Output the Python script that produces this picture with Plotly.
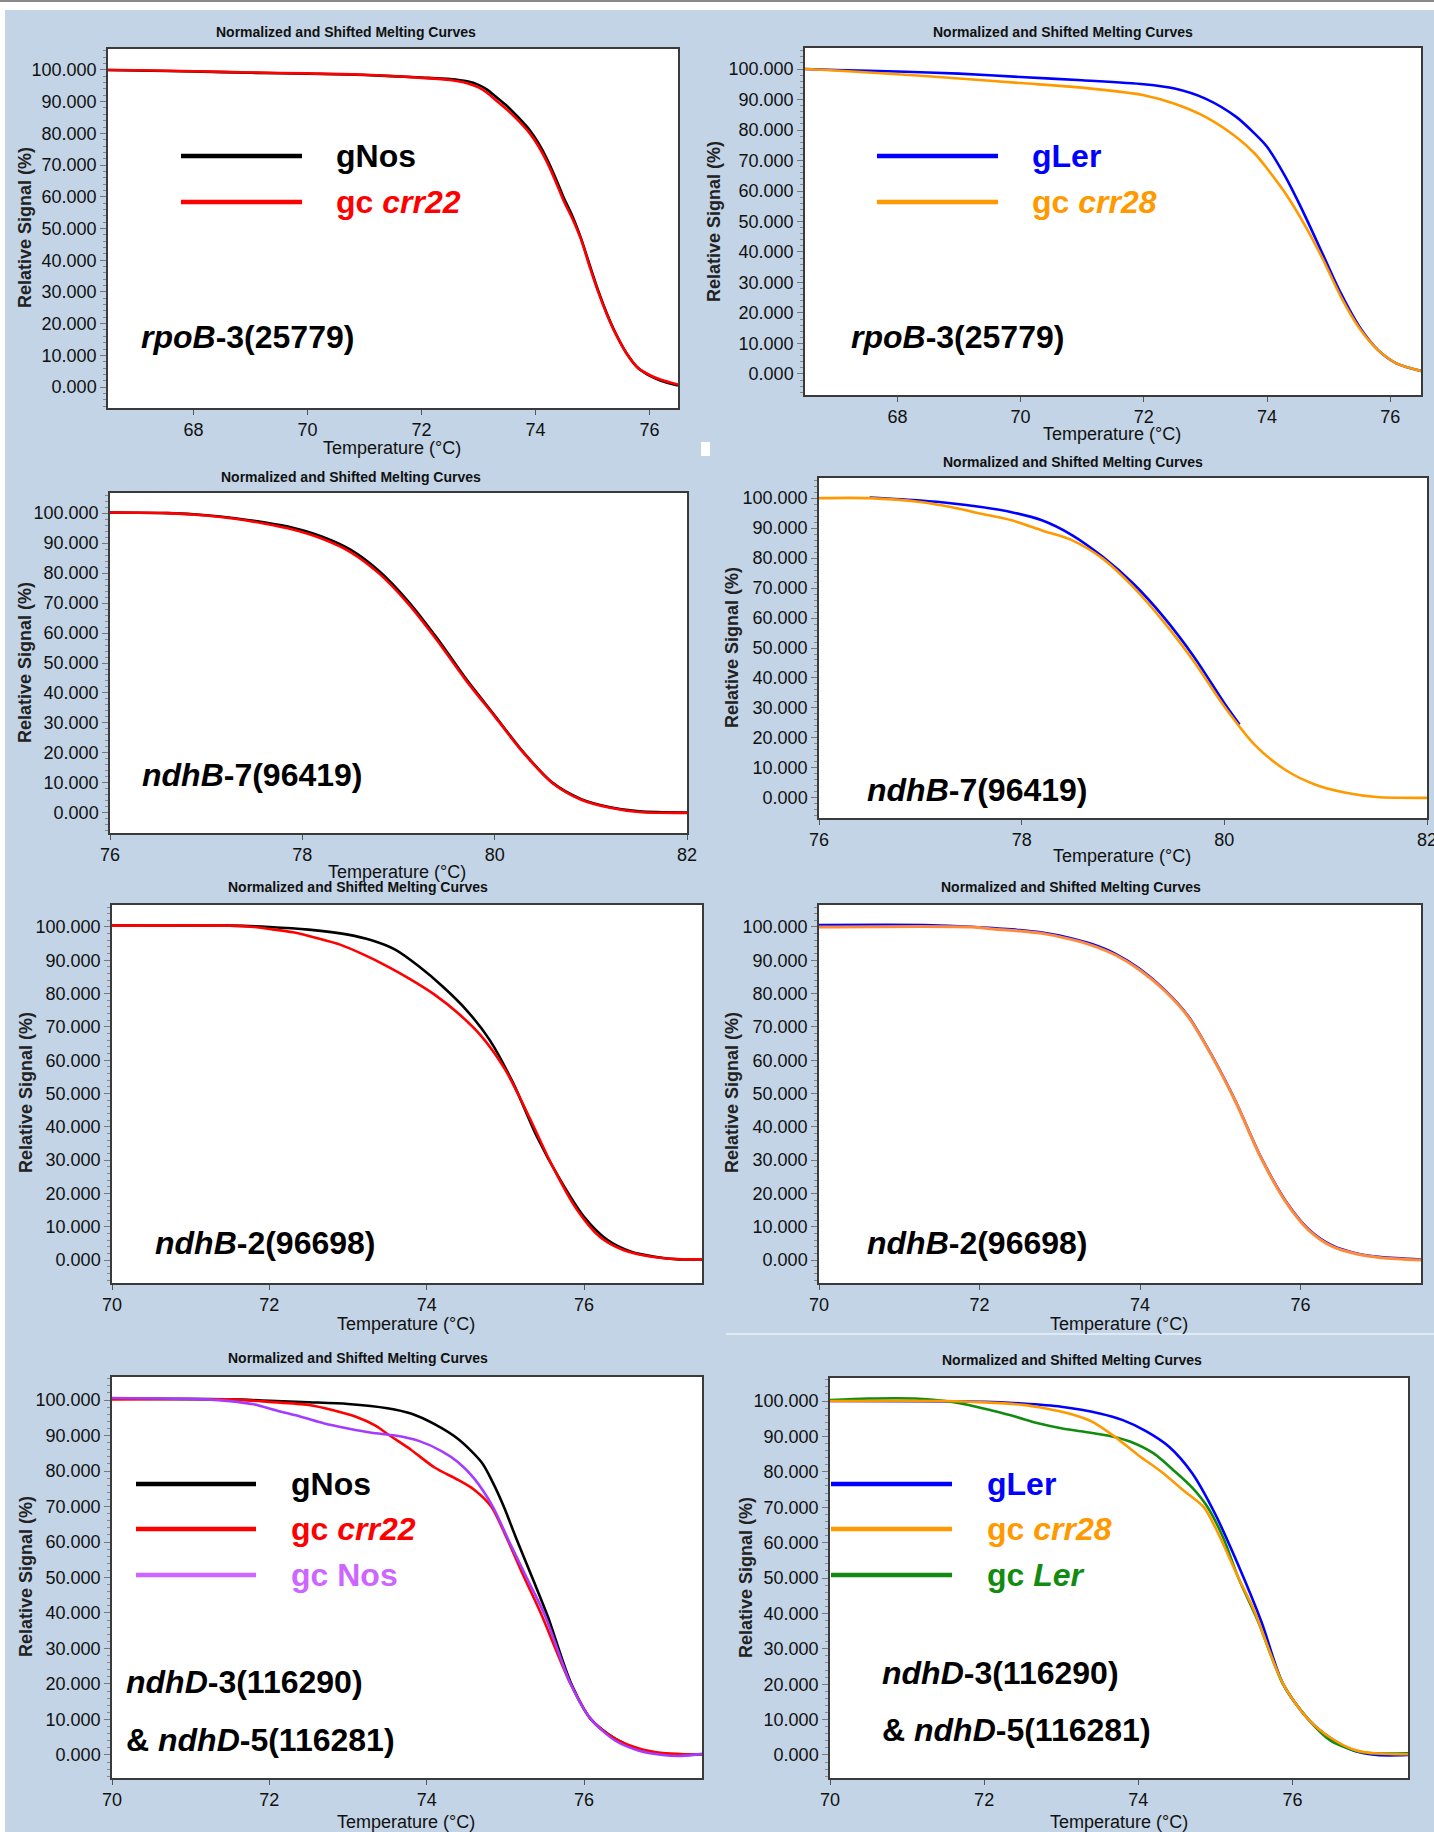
import plotly.graph_objects as go

W, H = 1434, 1832
BG = "#c2d4e5"
FONT = "Liberation Sans, Arial, sans-serif"

# ---------------- data ----------------
# Panel 1: rpoB-3, gNos vs gc crr22
P1_T = [66.5, 67.0, 68.0, 69.0, 70.0, 71.0, 72.0, 72.5, 72.8, 73.0, 73.15, 73.3, 73.5, 73.7, 73.9,
        74.05, 74.2, 74.35, 74.5, 74.65, 74.8, 74.95, 75.1, 75.25, 75.4, 75.6, 75.8, 76.0, 76.2, 76.5]
P1_gNos = [100.0, 99.8, 99.5, 99.1, 98.8, 98.4, 97.6, 97.1, 96.4, 95.3, 93.8, 91.6, 88.6, 85.0, 81.0,
           77.0, 72.0, 66.0, 59.5, 53.8, 46.8, 38.5, 30.4, 23.3, 17.2, 10.6, 6.0, 3.6, 2.0, 0.5]
P1_crr22 = [100.0, 99.9, 99.6, 99.2, 98.9, 98.5, 97.5, 96.8, 95.8, 94.5, 92.8, 90.5, 87.5, 84.0, 80.0,
            76.0, 71.0, 65.0, 58.5, 53.0, 46.5, 38.0, 30.0, 23.0, 17.0, 10.5, 6.0, 3.8, 2.3, 0.8]

# Panel 2: rpoB-3, gLer vs gc crr28
P2_T = [66.5, 67.0, 68.0, 69.0, 70.0, 71.0, 72.0, 72.5, 73.0, 73.5, 73.8, 74.0, 74.3, 74.6, 74.9,
        75.2, 75.5, 75.8, 76.1, 76.5]
P2_gLer = [100.0, 99.7, 99.2, 98.5, 97.4, 96.3, 95.0, 93.6, 90.3, 84.3, 78.8, 74.5, 64.6, 52.6, 39.5,
           26.4, 15.5, 7.9, 3.5, 1.0]
P2_crr28 = [100.0, 99.5, 98.3, 96.9, 95.4, 93.9, 91.4, 88.6, 84.3, 77.7, 72.3, 67.4, 59.2, 49.3, 37.9,
            25.3, 15.0, 7.9, 3.5, 1.0]

# Panel 3: ndhB-7, gNos vs gc crr22
P3_T = [76.0, 76.6, 77.0, 77.3, 77.6, 77.9, 78.2, 78.5, 78.8, 79.1, 79.4, 79.7, 80.0, 80.3, 80.6,
        80.9, 81.2, 81.5, 82.0]
P3_gNos = [100.2, 100.0, 99.3, 98.3, 96.9, 95.1, 92.2, 87.8, 80.6, 70.6, 58.3, 44.8, 32.5, 20.2, 10.1,
           4.6, 1.9, 0.5, 0.1]
P3_crr22 = [100.2, 100.0, 99.2, 98.1, 96.5, 94.5, 91.5, 87.0, 79.8, 69.8, 57.6, 44.3, 32.2, 20.0, 10.0,
            4.4, 1.7, 0.3, 0.0]

# Panel 4: ndhB-7, gLer vs gc crr28
P4_T_gLer = [76.5, 77.0, 77.3, 77.6, 77.9, 78.2, 78.5, 78.8, 79.1, 79.4, 79.7, 80.0, 80.15]
P4_gLer = [100.2, 99.2, 98.3, 97.0, 95.3, 92.6, 87.6, 80.4, 71.5, 60.4, 47.1, 31.6, 24.5]
P4_T_crr28 = [76.0, 76.5, 77.0, 77.3, 77.6, 77.9, 78.2, 78.5, 78.8, 79.1, 79.4, 79.7, 80.0, 80.3,
              80.6, 80.9, 81.2, 81.5, 82.0]
P4_crr28 = [100.0, 100.0, 98.7, 97.0, 94.8, 92.6, 89.2, 85.9, 79.8, 70.4, 58.8, 45.5, 30.5, 17.7,
            9.4, 4.4, 1.7, 0.3, 0.0]

# Panel 5: ndhB-2, gNos vs gc crr22
P5_T_gNos = [70.0, 71.5, 72.0, 72.5, 73.0, 73.3, 73.6, 73.9, 74.2, 74.5, 74.8, 75.1, 75.4, 75.7, 76.0,
             76.3, 76.6, 76.9, 77.2, 77.5]
P5_gNos = [100.4, 100.4, 100.0, 99.2, 97.7, 96.0, 93.2, 88.2, 82.2, 75.2, 66.1, 53.1, 37.1, 24.0, 13.0,
           6.0, 2.5, 1.0, 0.2, 0.2]
P5_T_crr22 = [70.0, 71.5, 71.8, 72.0, 72.3, 72.6, 72.9, 73.2, 73.5, 73.8, 74.1, 74.4, 74.7, 75.0, 75.3,
              75.6, 75.9, 76.2, 76.5, 76.8, 77.1, 77.5]
P5_crr22 = [100.4, 100.4, 100.0, 99.4, 98.4, 96.7, 94.7, 91.7, 88.2, 84.2, 79.7, 74.1, 67.1, 57.1, 43.1,
            28.1, 15.5, 7.0, 3.0, 1.2, 0.4, 0.2]

# Panel 6: ndhB-2, gLer vs gc crr28
P6_T_gLer = [70.0, 71.3, 71.9, 72.2, 72.5, 72.8, 73.1, 73.4, 73.7, 74.0, 74.3, 74.6, 74.9, 75.2, 75.5,
             75.8, 76.1, 76.4, 76.7, 77.0, 77.5]
P6_gLer = [100.6, 100.6, 100.1, 99.6, 99.1, 98.3, 96.9, 94.9, 91.9, 87.4, 81.3, 73.3, 61.2, 47.2, 31.2,
           18.3, 9.3, 4.3, 2.0, 0.9, 0.2]
P6_T_crr28 = [70.0, 71.9, 72.2, 72.5, 72.8, 73.1, 73.4, 73.7, 74.0, 74.3, 74.6, 74.9, 75.2, 75.5, 75.8,
              76.1, 76.4, 76.7, 77.0, 77.5]
P6_crr28 = [100.0, 100.0, 99.3, 98.8, 98.0, 96.5, 94.5, 91.5, 87.0, 81.0, 73.0, 61.0, 47.0, 31.0, 18.0,
            9.0, 4.0, 1.8, 0.7, 0.0]

# Panel 7: ndhD-3 & ndhD-5, gNos / gc crr22 / gc Nos
P7_T_gNos = [70.0, 71.5, 72.0, 72.5, 73.0, 73.5, 73.8, 74.1, 74.4, 74.7, 74.84, 74.98, 75.13, 75.36,
             75.54, 75.83, 76.09, 76.4, 76.7, 77.0, 77.3, 77.5]
P7_gNos = [100.4, 100.2, 99.8, 99.4, 98.9, 97.7, 96.2, 93.2, 89.0, 82.4, 76.8, 70.0, 61.5, 49.0,
           39.0, 20.5, 10.0, 4.5, 1.5, 0.3, 0.0, 0.2]
P7_T_crr22 = [70.0, 71.5, 72.0, 72.5, 72.8, 73.1, 73.35, 73.53, 73.8, 74.1, 74.4, 74.6, 74.82, 75.02,
              75.22, 75.45, 75.83, 76.09, 76.4, 76.7, 77.0, 77.3, 77.5]
P7_crr22 = [100.2, 100.2, 99.5, 98.6, 97.2, 95.3, 92.8, 90.0, 86.0, 81.0, 77.5, 74.8, 70.0, 61.0,
            51.0, 40.0, 20.0, 10.0, 4.5, 1.8, 0.5, 0.2, 0.2]
P7_T_gcNos = [70.0, 71.2, 71.5, 71.8, 72.1, 72.4, 72.7, 73.0, 73.3, 73.6, 73.9, 74.2, 74.4, 74.6,
              74.84, 75.04, 75.27, 75.5, 75.83, 76.09, 76.4, 76.7, 77.0, 77.2, 77.5]
P7_gcNos = [100.6, 100.2, 99.7, 98.8, 97.0, 95.3, 93.4, 92.0, 90.8, 90.0, 88.5, 85.5, 82.5, 78.0,
            70.0, 60.5, 50.0, 39.5, 20.0, 10.0, 4.0, 1.2, 0.0, -0.3, 0.3]

# Panel 8: ndhD-3 & ndhD-5, gLer / gc crr28 / gc Ler
P8_T_gLer = [70.0, 72.0, 72.5, 73.0, 73.5, 73.8, 74.1, 74.4, 74.7, 75.0, 75.3, 75.6, 75.88, 76.21,
             76.5, 76.8, 77.1, 77.5]
P8_gLer = [100.0, 99.8, 99.3, 98.4, 96.5, 94.6, 91.5, 87.1, 79.6, 68.0, 53.5, 37.5, 20.0, 10.0,
           4.7, 1.2, 0.0, 0.0]
P8_T_crr28 = [70.0, 71.5, 72.0, 72.5, 72.8, 73.1, 73.4, 73.69, 74.0, 74.3, 74.6, 74.85, 75.05, 75.3,
              75.5, 75.88, 76.21, 76.5, 76.8, 77.1, 77.5]
P8_crr28 = [100.0, 100.0, 99.6, 98.9, 97.9, 96.5, 94.2, 90.0, 84.7, 80.0, 74.5, 70.0, 62.0, 50.0,
            41.0, 20.0, 10.0, 4.8, 1.5, 0.4, 0.2]
P8_T_gcLer = [70.0, 70.5, 71.1, 71.5, 71.8, 72.1, 72.4, 72.7, 73.0, 73.3, 73.66, 73.9, 74.2, 74.48,
              74.7, 74.9, 75.1, 75.3, 75.55, 75.88, 76.21, 76.5, 76.9, 77.5]
P8_gcLer = [100.3, 100.7, 100.7, 100.0, 98.9, 97.3, 95.6, 93.7, 92.3, 91.3, 90.0, 88.5, 85.2, 80.0,
            75.5, 70.0, 61.5, 50.0, 38.0, 20.0, 10.0, 4.0, 0.8, 0.5]

TITLE = "Normalized and Shifted Melting Curves"
XTITLE = "Temperature (°C)"
YTITLE = "Relative Signal (%)"
Y_TICKS = [0, 10, 20, 30, 40, 50, 60, 70, 80, 90, 100]

BLACK, RED, BLUE = "#000000", "#ff0000", "#0000ff"
ORANGE, PURPLE, PURPLE_L, GREEN = "#ff9900", "#a43cff", "#cc66ff", "#118c11"

# ---------------- layout of the eight panels (pixel boxes) ----------------
panels = [
    dict(box=(108, 678, 49, 408), xr=[66.5, 76.5], yr=[-6.6, 106.6],
         title=(346, 32), xt=(392, 448), yt=(25, 228),
         traces=[(P1_T, P1_gNos, BLACK, 2.6), (P1_T, P1_crr22, RED, 2.6)],
         legend=dict(x0=181, x1=302, tx=334, items=[(156, BLACK, "<b>gNos</b>"),
                                                    (202, RED, "<b>gc <i>crr22</i></b>")]),
         labels=[(139, 337, "<b><i>rpoB</i>-3(25779)</b>")]),
    dict(box=(805, 1421, 48, 395), xr=[66.5, 76.5], yr=[-6.9, 106.9],
         title=(1063, 32), xt=(1112, 434), yt=(714, 222),
         traces=[(P2_T, P2_gLer, BLUE, 2.6), (P2_T, P2_crr28, ORANGE, 2.6)],
         legend=dict(x0=877, x1=998, tx=1030, items=[(156, BLUE, "<b>gLer</b>"),
                                                     (202, ORANGE, "<b>gc <i>crr28</i></b>")]),
         labels=[(849, 337, "<b><i>rpoB</i>-3(25779)</b>")]),
    dict(box=(110, 687, 493, 833), xr=[76, 82], yr=[-6.7, 106.7],
         title=(351, 477), xt=(397, 872), yt=(25, 663),
         traces=[(P3_T, P3_gNos, BLACK, 2.6), (P3_T, P3_crr22, RED, 2.6)],
         legend=None,
         labels=[(140, 775, "<b><i>ndhB</i>-7(96419)</b>")]),
    dict(box=(819, 1427, 478, 818), xr=[76, 82], yr=[-6.7, 106.7],
         title=(1073, 462), xt=(1122, 856), yt=(732, 648),
         traces=[(P4_T_gLer, P4_gLer, BLUE, 2.6), (P4_T_crr28, P4_crr28, ORANGE, 2.6)],
         legend=None,
         labels=[(865, 790, "<b><i>ndhB</i>-7(96419)</b>")]),
    dict(box=(112, 702, 905, 1283), xr=[70, 77.5], yr=[-6.9, 106.6],
         title=(358, 887), xt=(406, 1324), yt=(26, 1093),
         traces=[(P5_T_gNos, P5_gNos, BLACK, 2.6), (P5_T_crr22, P5_crr22, RED, 2.6)],
         legend=None,
         labels=[(153, 1243, "<b><i>ndhB</i>-2(96698)</b>")]),
    dict(box=(819, 1421, 905, 1283), xr=[70, 77.5], yr=[-6.9, 106.6],
         title=(1071, 887), xt=(1119, 1324), yt=(732, 1093),
         traces=[(P6_T_gLer, P6_gLer, BLUE, 2.4), (P6_T_crr28, P6_crr28, "#ff8a3c", 3.0)],
         legend=None,
         labels=[(865, 1243, "<b><i>ndhB</i>-2(96698)</b>")]),
    dict(box=(112, 702, 1377, 1778), xr=[70, 77.5], yr=[-6.5, 106.5],
         title=(358, 1358), xt=(406, 1822), yt=(26, 1577),
         traces=[(P7_T_gNos, P7_gNos, BLACK, 2.6), (P7_T_crr22, P7_crr22, RED, 2.6),
                 (P7_T_gcNos, P7_gcNos, PURPLE, 2.6)],
         legend=dict(x0=136, x1=256, tx=289, items=[(1484, BLACK, "<b>gNos</b>"),
                                                    (1529, RED, "<b>gc <i>crr22</i></b>"),
                                                    (1575, PURPLE_L, "<b>gc Nos</b>")]),
         labels=[(124, 1682, "<b><i>ndhD</i>-3(116290)</b>"),
                 (124, 1740, "<b>&amp; <i>ndhD</i>-5(116281)</b>")]),
    dict(box=(830, 1408, 1378, 1778), xr=[70, 77.5], yr=[-6.5, 106.5],
         title=(1072, 1360), xt=(1119, 1822), yt=(746, 1578),
         traces=[(P8_T_gLer, P8_gLer, BLUE, 2.6), (P8_T_gcLer, P8_gcLer, GREEN, 2.6),
                 (P8_T_crr28, P8_crr28, ORANGE, 2.6)],
         legend=dict(x0=831, x1=952, tx=985, items=[(1484, BLUE, "<b>gLer</b>"),
                                                    (1529, ORANGE, "<b>gc <i>crr28</i></b>"),
                                                    (1575, GREEN, "<b>gc <i>Ler</i></b>")]),
         labels=[(880, 1673, "<b><i>ndhD</i>-3(116290)</b>"),
                 (880, 1730, "<b>&amp; <i>ndhD</i>-5(116281)</b>")]),
]


def px(x):
    return x / W


def py(y):
    return 1 - y / H


fig = go.Figure()
annotations = []
shapes = []

# background decorations
shapes.append(dict(type="rect", xref="paper", yref="paper", x0=0, x1=1, y0=py(10), y1=1,
                   fillcolor="white", line=dict(width=0), layer="below"))
shapes.append(dict(type="rect", xref="paper", yref="paper", x0=0, x1=px(5), y0=0, y1=1,
                   fillcolor="white", line=dict(width=0), layer="below"))
shapes.append(dict(type="rect", xref="paper", yref="paper", x0=0, x1=1, y0=py(2), y1=1,
                   fillcolor="#8a8a8a", line=dict(width=0), layer="below"))
shapes.append(dict(type="line", xref="paper", yref="paper", x0=px(726), x1=1, y0=py(1334), y1=py(1334),
                   line=dict(color="white", width=1.2), layer="below"))
shapes.append(dict(type="rect", xref="paper", yref="paper", x0=px(701), x1=px(710), y0=py(456), y1=py(442),
                   fillcolor="white", line=dict(width=0), layer="below"))

layout_axes = {}
for i, p in enumerate(panels, start=1):
    l, r, t, b = p["box"]
    xa = "x" if i == 1 else f"x{i}"
    ya = "y" if i == 1 else f"y{i}"
    xkey = "xaxis" if i == 1 else f"xaxis{i}"
    ykey = "yaxis" if i == 1 else f"yaxis{i}"
    layout_axes[xkey] = dict(
        domain=[px(l), px(r)], anchor=ya, range=p["xr"], dtick=2, tick0=0, automargin=False,
        ticklabeloverflow="allow",
        showgrid=False, zeroline=False, showline=True, mirror=True,
        linecolor="#3a3a3a", linewidth=1.5, ticks="outside", ticklen=5, tickcolor="#555",
        tickfont=dict(family=FONT, size=18, color="#111"),
    )
    layout_axes[ykey] = dict(
        domain=[py(b), py(t)], anchor=xa, range=p["yr"], tickvals=Y_TICKS, tickformat=".3f",
        automargin=False,
        showgrid=False, zeroline=False, showline=True, mirror=True,
        linecolor="#3a3a3a", linewidth=1.5, ticks="outside", ticklen=6, tickcolor="#777",
        tickfont=dict(family=FONT, size=18, color="#111"),
        minor=dict(ticks="outside", ticklen=3, dtick=2, tickcolor="#888"),
    )
    for (xs, ys, col, w) in p["traces"]:
        fig.add_trace(go.Scatter(x=xs, y=ys, mode="lines",
                                 line=dict(color=col, width=w, shape="spline", smoothing=0.8),
                                 xaxis=xa, yaxis=ya, showlegend=False, hoverinfo="skip"))
    # panel title and axis titles
    tx, ty = p["title"]
    annotations.append(dict(x=px(tx), y=py(ty), xref="paper", yref="paper", text=f"<b>{TITLE}</b>",
                            showarrow=False, xanchor="center", yanchor="middle",
                            font=dict(family=FONT, size=14, color="#111")))
    xx, xy = p["xt"]
    annotations.append(dict(x=px(xx), y=py(xy), xref="paper", yref="paper", text=XTITLE,
                            showarrow=False, xanchor="center", yanchor="middle",
                            font=dict(family=FONT, size=18, color="#111")))
    yx, yy = p["yt"]
    annotations.append(dict(x=px(yx), y=py(yy), xref="paper", yref="paper", text=f"<b>{YTITLE}</b>",
                            showarrow=False, xanchor="center", yanchor="middle", textangle=-90,
                            font=dict(family=FONT, size=18, color="#222")))
    # in-plot legend
    if p["legend"]:
        lg = p["legend"]
        for (ly, col, txt) in lg["items"]:
            shapes.append(dict(type="line", xref="paper", yref="paper", x0=px(lg["x0"]), x1=px(lg["x1"]),
                               y0=py(ly), y1=py(ly), line=dict(color=col, width=4.5)))
            annotations.append(dict(x=px(lg["tx"]), y=py(ly), xref="paper", yref="paper", text=txt,
                                    showarrow=False, xanchor="left", yanchor="middle",
                                    font=dict(family=FONT, size=32, color=col)))
    for (lx, ly, txt) in p["labels"]:
        annotations.append(dict(x=px(lx), y=py(ly), xref="paper", yref="paper", text=txt,
                                showarrow=False, xanchor="left", yanchor="middle",
                                font=dict(family=FONT, size=32, color="#000")))

fig.update_layout(
    width=W, height=H, margin=dict(l=0, r=0, t=0, b=0, autoexpand=False),
    paper_bgcolor=BG, plot_bgcolor="white",
    annotations=annotations, shapes=shapes, showlegend=False,
    **layout_axes,
)

fig.write_html("out.html")
